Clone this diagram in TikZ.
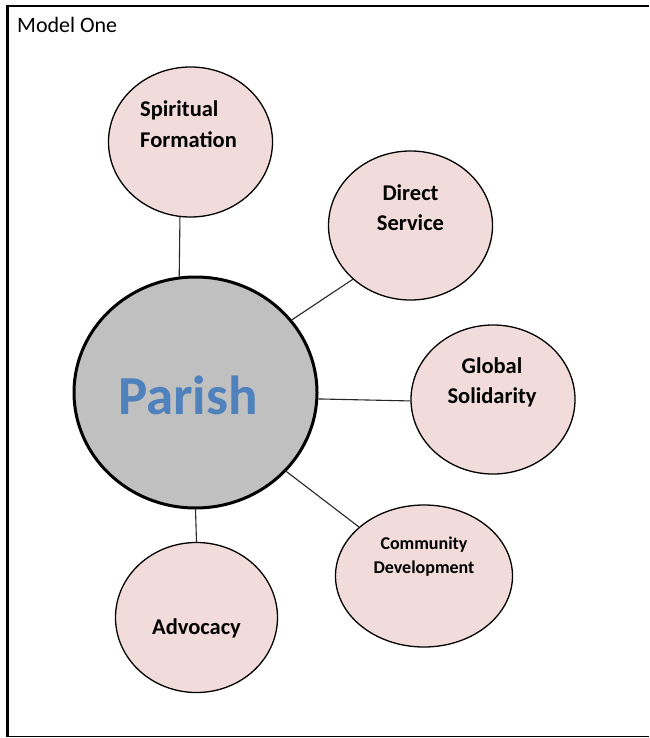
\documentclass[tikz,border=0pt]{standalone}
\usepackage{fontspec}
\setmainfont{Carlito}
\usetikzlibrary{shapes.geometric}
\definecolor{pinkfill}{HTML}{F2DCDB}
\definecolor{parishfill}{HTML}{C0C0C0}
\definecolor{parishblue}{HTML}{4F81BD}
\tikzset{
  bubble/.style={ellipse, draw=black, line width=1.3pt, fill=pinkfill, inner sep=0pt},
  hub/.style={ellipse, draw=black, line width=3pt, fill=parishfill, inner sep=0pt},
  lbl/.style={font=\fontsize{22.5}{30.5}\selectfont\bfseries, align=center, inner sep=0pt},
  conn/.style={draw=black!85, line width=1.1pt},
}
\begin{document}
\begin{tikzpicture}[x=1pt,y=-1pt]
\useasboundingbox (0,0) rectangle (649,738);
\fill[white] (0,0) rectangle (649,738);
% frame
\draw[line width=3pt] (7.5,5) -- (7.5,737);
\draw[line width=2.5pt] (6,6.2) -- (649,6.2);
\draw[line width=1pt] (7,736.5) -- (649,736.5);
\node[anchor=base west, font=\fontsize{22}{26}\selectfont, inner sep=0pt] (title) at (17,33) {Model One};
% bubbles
\node[hub, minimum width=243pt, minimum height=231pt] (par) at (195.5,392.5) {};
\node[bubble, minimum width=164pt, minimum height=150pt] (sf) at (190.5,142) {};
\node[bubble, minimum width=164pt, minimum height=149pt] (ds) at (410.5,225.5) {};
\node[bubble, minimum width=164pt, minimum height=149pt] (gs) at (493,399.5) {};
\node[bubble, minimum width=177pt, minimum height=142pt] (cd) at (424,576) {};
\node[bubble, minimum width=162pt, minimum height=150pt] (adv) at (196.5,617.5) {};
% labels
\node[lbl, align=left, anchor=west] (sft) at (140,124) {Spiritual\\Formation};
\node[lbl] (dst) at (410.5,207.5) {Direct\\Service};
\node[lbl] (gst) at (492,382.5) {Global\\Solidarity};
\node[lbl, font=\fontsize{18}{24}\selectfont\bfseries] (cdt) at (424,557) {Community\\Development};
\node[lbl] (advt) at (196.5,628) {Advocacy};
\node[font=\fontsize{55}{60}\selectfont\bfseries, text=parishblue, inner sep=0pt] (part) at (188,395) {Parish};
% connectors
\draw[conn] (sf.-98) -- (par.98.7);
\draw[conn] (ds.223) -- (par.37.2);
\draw[conn] (gs.181.7) -- (par.-3.4);
\draw[conn] (cd.143.4) -- (par.-41.8);
\draw[conn] (adv.90) -- (par.-90);
\end{tikzpicture}
\end{document}
